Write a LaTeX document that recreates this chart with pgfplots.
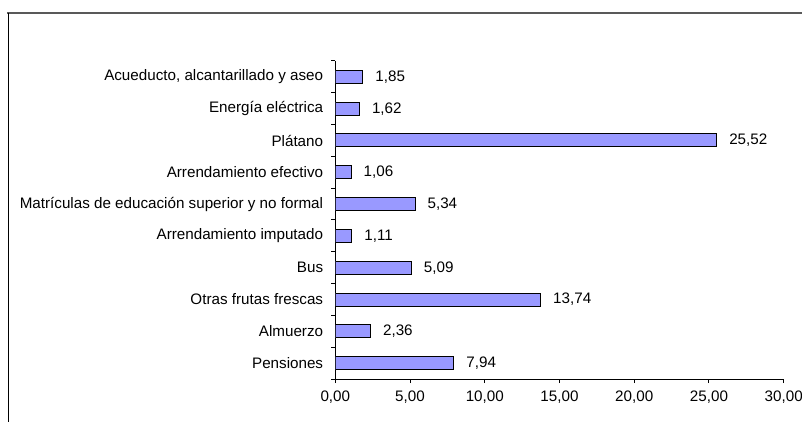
\documentclass[border=0pt]{standalone}
\usepackage{fontspec}
\setmainfont{Liberation Sans}
\usepackage{pgfplots}
\pgfplotsset{compat=1.18}
\definecolor{barblue}{RGB}{153,153,255}
\begin{document}
\begin{tikzpicture}[x=1bp,y=1bp]
\useasboundingbox (0,0) rectangle (802,422);
% outer frame (only top and left visible)
\draw[gray!70!black, line width=1.3bp] (7,409) -- (802,409);
\draw[black, line width=1bp] (8,409) -- (8,0);
\begin{axis}[
    at={(335.3bp,43bp)}, anchor=south west,
    scale only axis, width=448.4bp, height=318bp,
    font=\fontsize{15.2bp}{18bp}\selectfont,
    xbar, bar width=13bp,
    xmin=0, xmax=30, ymin=-0.5, ymax=9.5,
    axis lines*=left,
    axis line style={black, line width=1bp},
    xtick={0,5,...,30}, minor xtick={0,5,...,30},
    ytick={0,...,9},
    yticklabels={Pensiones, Almuerzo, Otras frutas frescas, Bus,
        Arrendamiento imputado, Matrículas de educación superior y no formal,
        Arrendamiento efectivo, Plátano, Energía eléctrica,
        {Acueducto, alcantarillado y aseo}},
    minor ytick={-0.5,0.5,...,9.5},
    major tick length=0pt, minor tick length=4bp, tick align=outside,
    tick style={black, line width=1bp},
    xticklabel={\pgfmathprintnumber[fixed,fixed zerofill,precision=2,use comma,assume math mode=true]{\tick}},
    xticklabel style={inner sep=0pt, yshift=-12bp},
    yticklabel style={inner sep=0pt, xshift=-12bp},
    point meta=x,
    nodes near coords={\pgfmathprintnumber[fixed,fixed zerofill,precision=2,use comma,assume math mode=true]{\pgfplotspointmeta}},
    nodes near coords align={horizontal},
    every node near coord/.append style={inner sep=0pt, xshift=12bp, black},
]
\addplot[fill=barblue, draw=black, line width=1bp] coordinates {
    (7.94,0) (2.36,1) (13.74,2) (5.09,3) (1.11,4)
    (5.34,5) (1.06,6) (25.52,7) (1.62,8) (1.85,9)
};
\end{axis}
\end{tikzpicture}
\end{document}
